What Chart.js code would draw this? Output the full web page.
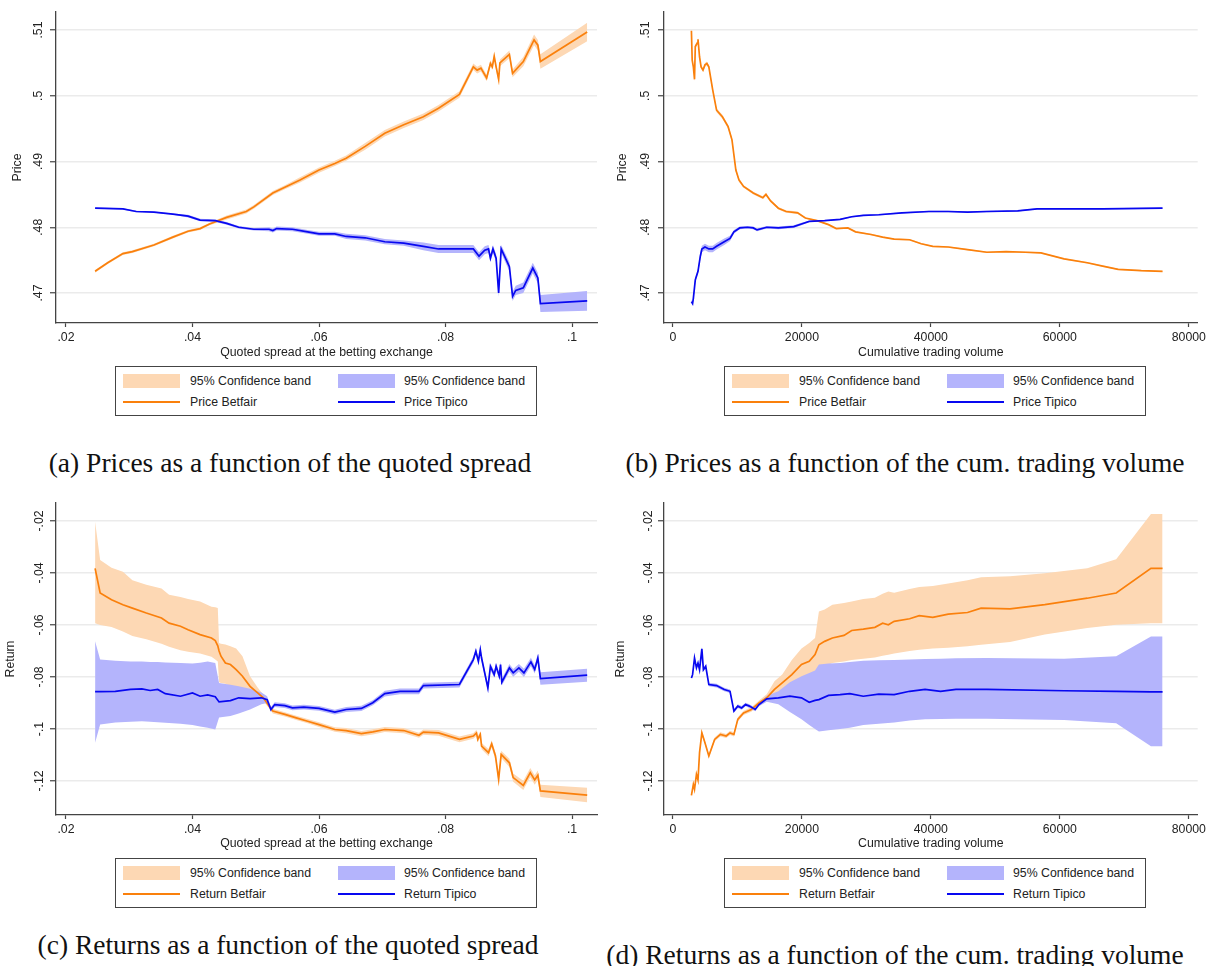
<!DOCTYPE html>
<html>
<head>
<meta charset="utf-8">
<script src="https://cdn.jsdelivr.net/npm/chart.js@4.4.0/dist/chart.umd.min.js"></script>
<style>
  body { margin: 0; background: #fff; width: 1209px; height: 966px; position: relative; overflow: hidden; }
  canvas { position: absolute; }
  .legend { position: absolute; width: 422px; height: 50px; border: 1.3px solid #444; box-sizing: border-box;
            font: 12.3px 'Liberation Sans', Arial, sans-serif; color: #222; }
  .legend span { position: absolute; }
  .sw { width: 57px; height: 14px; }
  .ln { width: 57px; height: 2px; }
  .lab { line-height: 14px; white-space: nowrap; }
  .caption { position: absolute; font: 27.5px 'Liberation Serif', 'Times New Roman', serif; line-height: 1;
             color: #111; white-space: nowrap; transform: translateX(-50%); }
</style>
</head>
<body>
<script>
// tick values
const spreadTicks = [0.02, 0.04, 0.06, 0.08, 0.1];
const volumeTicks = [0, 20000, 40000, 60000, 80000];
const priceTicks = [0.47, 0.48, 0.49, 0.5, 0.51];
const returnTicks = [-0.12, -0.1, -0.08, -0.06, -0.04, -0.02];

// (a) price vs quoted spread
const aSpreadBf = [.0246,.0266,.0290,.0305,.0339,.0369,.0393,.0412,.0427,.0454,.0485,.0497,.0527,.0546,.0570,.0600,.0625,.0643,.0673,.0704,.0734,.0765,.0789,.0822,.0844,.0850,.0856,.0865,.0871,.0874,.0877,.0880,.0884,.0886,.0901,.0906,.0923,.0940,.0946,.0950,.1024];
const aPriceBf  = [.4733,.4746,.4760,.4763,.4773,.4785,.4794,.4798,.4805,.4815,.4824,.4831,.4852,.4861,.4872,.4887,.4897,.4905,.4923,.4943,.4956,.4968,.4981,.5002,.5044,.5039,.5042,.5027,.5049,.5044,.5060,.5044,.5025,.5050,.5063,.5034,.5052,.5085,.5077,.5052,.5097];
const aLoBf     = [.4731,.4744,.4758,.4761,.4771,.4783,.4792,.4796,.4803,.4812,.4821,.4828,.4849,.4858,.4868,.4883,.4893,.4901,.4918,.4938,.4951,.4963,.4976,.4997,.5039,.5034,.5037,.5022,.5044,.5039,.5055,.5039,.5020,.5045,.5057,.5028,.5045,.5077,.5069,.5041,.5083];
const aHiBf     = [.4735,.4748,.4762,.4765,.4775,.4787,.4796,.4800,.4807,.4818,.4827,.4834,.4855,.4864,.4876,.4891,.4901,.4909,.4928,.4948,.4961,.4973,.4986,.5007,.5049,.5044,.5047,.5032,.5054,.5049,.5065,.5049,.5030,.5055,.5069,.5040,.5059,.5093,.5085,.5063,.5111];
const aSpreadTp = [.0246,.0290,.0311,.0339,.0369,.0393,.0412,.0436,.0454,.0473,.0497,.0521,.0527,.0533,.0558,.0582,.0600,.0625,.0643,.0673,.0704,.0734,.0765,.0789,.0844,.0853,.0862,.0868,.0871,.0875,.0880,.0884,.0888,.0901,.0906,.0911,.0923,.0938,.0946,.0950,.1024];
const aPriceTp  = [.4829,.4828,.4824,.4823,.4820,.4817,.4811,.4810,.4806,.4800,.4797,.4797,.4795,.4798,.4797,.4793,.4790,.4790,.4786,.4784,.4778,.4776,.4771,.4767,.4767,.4756,.4765,.4767,.4753,.4767,.4753,.4700,.4767,.4740,.4695,.4704,.4708,.4738,.4723,.4684,.4688];
const aLoTp     = [.4828,.4827,.4823,.4822,.4819,.4815,.4809,.4808,.4804,.4798,.4795,.4794,.4792,.4795,.4794,.4790,.4787,.4787,.4782,.4780,.4774,.4772,.4765,.4761,.4761,.4750,.4759,.4761,.4747,.4761,.4747,.4694,.4761,.4733,.4688,.4697,.4700,.4730,.4715,.4671,.4673];
const aHiTp     = [.4830,.4829,.4825,.4824,.4821,.4819,.4813,.4812,.4808,.4802,.4799,.4800,.4798,.4801,.4800,.4796,.4793,.4793,.4790,.4788,.4782,.4780,.4777,.4773,.4773,.4762,.4771,.4773,.4759,.4773,.4759,.4706,.4773,.4747,.4702,.4711,.4716,.4746,.4731,.4697,.4703];

// (b) price vs cumulative trading volume
const bVolBf   = [2870,2990,3170,3350,3470,3770,3890,4130,4370,4670,4970,5270,5570,6170,6770,7670,8560,9160,9760,10240,10960,12460,13950,14430,15150,16350,17550,19340,20540,22340,24130,25330,27130,28320,30720,32520,34310,36710,38500,40300,42700,45690,48680,51680,54670,57070,60660,64250,66650,69040,72640,75930];
const bPriceBf = [.5099,.5054,.5044,.5025,.5075,.5080,.5086,.5059,.5044,.5039,.5047,.5049,.5044,.5009,.4978,.4968,.4953,.4933,.4887,.4872,.4862,.4852,.4845,.4850,.4840,.4829,.4824,.4822,.4814,.4810,.4804,.4798,.4799,.4793,.4789,.4785,.4782,.4781,.4775,.4771,.4770,.4766,.4762,.4763,.4762,.4761,.4752,.4746,.4741,.4736,.4734,.4733];
const bLoBf    = [.5096,.5051,.5041,.5022,.5072,.5077,.5083,.5056,.5041,.5036,.5044,.5046,.5041,.5006,.4975,.4965,.4950,.4930,.4884,.4869,.4860,.4850,.4843,.4848,.4838,.4827,.4822,.4820,.4813,.4809,.4803,.4797,.4798,.4792,.4788,.4784,.4781,.4780,.4774,.4770,.4769,.4765,.4761,.4762,.4761,.4760,.4751,.4745,.4740,.4735,.4733,.4732];
const bHiBf    = [.5102,.5057,.5047,.5028,.5078,.5083,.5089,.5062,.5047,.5042,.5050,.5052,.5047,.5012,.4981,.4971,.4956,.4936,.4890,.4875,.4864,.4854,.4847,.4852,.4842,.4831,.4826,.4824,.4815,.4811,.4805,.4799,.4800,.4794,.4790,.4786,.4783,.4782,.4776,.4772,.4771,.4767,.4763,.4764,.4763,.4762,.4753,.4747,.4742,.4737,.4735,.4734];
const bVolTp   = [2870,3050,3170,3470,3890,4250,4490,4970,5570,6170,6770,7960,8860,9460,10360,11560,12460,13050,14550,16350,18740,19940,21140,23530,25930,27720,29520,31920,35510,39700,42700,45690,48680,53470,56470,60660,66650,75930];
const bPriceTp = [.4687,.4684,.4692,.4720,.4733,.4756,.4767,.4770,.4767,.4767,.4771,.4778,.4783,.4793,.4799,.4800,.4799,.4796,.4800,.4799,.4801,.4805,.4809,.4810,.4812,.4816,.4818,.4819,.4822,.4824,.4824,.4823,.4824,.4825,.4828,.4828,.4828,.4829];
const bLoTp    = [.4684,.4681,.4689,.4716,.4729,.4751,.4762,.4765,.4762,.4762,.4766,.4773,.4779,.4790,.4797,.4798,.4797,.4794,.4798,.4797,.4799,.4803,.4808,.4809,.4811,.4815,.4817,.4818,.4821,.4823,.4823,.4822,.4823,.4824,.4827,.4827,.4827,.4828];
const bHiTp    = [.4690,.4687,.4695,.4724,.4737,.4761,.4772,.4775,.4772,.4772,.4776,.4783,.4787,.4796,.4801,.4802,.4801,.4798,.4802,.4801,.4803,.4807,.4810,.4811,.4813,.4817,.4819,.4820,.4823,.4825,.4825,.4824,.4825,.4826,.4829,.4829,.4829,.4830];

// (c) return vs quoted spread
const cSpreadBf = [.0246,.0254,.0272,.0290,.0305,.0327,.0351,.0363,.0381,.0393,.0412,.0430,.0436,.0440,.0442,.0445,.0452,.0460,.0469,.0479,.0491,.0503,.0512,.0521,.0527,.0546,.0564,.0582,.0600,.0625,.0643,.0667,.0685,.0704,.0734,.0758,.0765,.0789,.0822,.0844,.0849,.0851,.0855,.0857,.0868,.0873,.0879,.0884,.0888,.0901,.0907,.0923,.0934,.0941,.0946,.0950,.1024];
const cRetBf    = [-.0382,-.0477,-.0503,-.0522,-.0535,-.0554,-.0573,-.0593,-.0605,-.0618,-.0637,-.0650,-.0660,-.0680,-.0700,-.0720,-.0746,-.0752,-.0772,-.0797,-.0836,-.0861,-.0880,-.0912,-.0931,-.0944,-.0957,-.0970,-.0983,-.1002,-.1006,-.1018,-.1011,-.1002,-.1006,-.1024,-.1012,-.1015,-.1040,-.1027,-.1015,-.1040,-.1021,-.1066,-.1091,-.1057,-.1104,-.1194,-.1098,-.1130,-.1187,-.1217,-.1168,-.1196,-.1178,-.1238,-.1254];
const cLoBf     = [-.0593,-.0600,-.0608,-.0625,-.0642,-.0655,-.0672,-.0684,-.0697,-.0703,-.0710,-.0722,-.0733,-.0740,-.0820,-.0823,-.0826,-.0836,-.0843,-.0850,-.0861,-.0880,-.0893,-.0920,-.0940,-.0952,-.0965,-.0978,-.0992,-.1011,-.1016,-.1028,-.1021,-.1012,-.1016,-.1034,-.1022,-.1026,-.1051,-.1038,-.1027,-.1052,-.1033,-.1078,-.1105,-.1071,-.1118,-.1208,-.1112,-.1146,-.1203,-.1235,-.1186,-.1214,-.1196,-.1262,-.1282];
const cHiBf     = [-.0203,-.0350,-.0380,-.0395,-.0428,-.0445,-.0460,-.0484,-.0492,-.0500,-.0510,-.0530,-.0532,-.0535,-.0669,-.0672,-.0675,-.0682,-.0690,-.0720,-.0797,-.0840,-.0868,-.0900,-.0922,-.0936,-.0949,-.0962,-.0974,-.0993,-.0996,-.1008,-.1001,-.0992,-.0996,-.1014,-.1002,-.1004,-.1029,-.1016,-.1003,-.1028,-.1009,-.1054,-.1077,-.1043,-.1090,-.1180,-.1084,-.1114,-.1171,-.1199,-.1150,-.1178,-.1160,-.1214,-.1226];
const cSpreadTp = [.0246,.0254,.0278,.0302,.0320,.0333,.0345,.0357,.0381,.0400,.0412,.0424,.0436,.0442,.0460,.0473,.0491,.0509,.0518,.0524,.0530,.0546,.0558,.0576,.0600,.0625,.0643,.0667,.0685,.0704,.0728,.0758,.0765,.0822,.0844,.0848,.0852,.0855,.0857,.0867,.0871,.0877,.0880,.0885,.0887,.0889,.0901,.0907,.0916,.0924,.0935,.0941,.0946,.0950,.1024];
const cRetTp    = [-.0856,-.0856,-.0855,-.0848,-.0846,-.0852,-.0848,-.0864,-.0874,-.0861,-.0874,-.0869,-.0876,-.0896,-.0891,-.0880,-.0883,-.0880,-.0887,-.0925,-.0906,-.0910,-.0919,-.0916,-.0921,-.0935,-.0925,-.0921,-.0899,-.0864,-.0855,-.0855,-.0833,-.0829,-.0733,-.0701,-.0740,-.0695,-.0727,-.0842,-.0759,-.0791,-.0759,-.0797,-.0752,-.0820,-.0765,-.0784,-.0765,-.0784,-.0742,-.0771,-.0727,-.0806,-.0793];
const cLoTp     = [-.1053,-.0983,-.0975,-.0972,-.0970,-.0972,-.0974,-.0976,-.0980,-.0985,-.0990,-.0995,-.1002,-.0956,-.0950,-.0940,-.0925,-.0905,-.0900,-.0935,-.0915,-.0919,-.0928,-.0925,-.0930,-.0944,-.0935,-.0931,-.0909,-.0875,-.0866,-.0866,-.0844,-.0840,-.0745,-.0713,-.0752,-.0707,-.0739,-.0855,-.0772,-.0804,-.0772,-.0810,-.0765,-.0833,-.0780,-.0799,-.0780,-.0800,-.0758,-.0787,-.0743,-.0830,-.0818];
const cHiTp     = [-.0663,-.0733,-.0738,-.0740,-.0740,-.0742,-.0742,-.0744,-.0746,-.0748,-.0745,-.0740,-.0746,-.0823,-.0830,-.0836,-.0845,-.0860,-.0874,-.0915,-.0897,-.0901,-.0910,-.0907,-.0912,-.0926,-.0915,-.0911,-.0889,-.0853,-.0844,-.0844,-.0822,-.0818,-.0721,-.0689,-.0728,-.0683,-.0715,-.0829,-.0746,-.0778,-.0746,-.0784,-.0739,-.0807,-.0750,-.0769,-.0750,-.0768,-.0726,-.0755,-.0711,-.0782,-.0768];

// (d) return vs cumulative trading volume
const dVolBf = [2870,3170,3350,3650,3890,4130,4490,4970,5570,6470,7370,8260,8860,9460,10060,10960,12160,13350,14550,15750,16950,18440,19940,21140,22040,22640,23530,24730,26530,27720,29520,31320,32520,33410,34310,36710,38200,40300,42700,45690,47790,52280,57670,64250,68740,74130,75930];
const dRetBf = [-.1255,-.1213,-.1232,-.1174,-.1196,-.1091,-.1015,-.1053,-.1104,-.1040,-.1021,-.1027,-.1015,-.1021,-.0963,-.0938,-.0925,-.0900,-.0880,-.0848,-.0823,-.0791,-.0752,-.0740,-.0714,-.0676,-.0663,-.0650,-.0640,-.0621,-.0616,-.0609,-.0593,-.0599,-.0586,-.0576,-.0564,-.0571,-.0558,-.0552,-.0535,-.0538,-.0522,-.0497,-.0477,-.0382,-.0382];
const dLoBf  = [-.1262,-.1220,-.1239,-.1181,-.1203,-.1098,-.1022,-.1060,-.1111,-.1047,-.1029,-.1035,-.1023,-.1029,-.0971,-.0946,-.0934,-.0910,-.0892,-.0874,-.0860,-.0840,-.0815,-.0797,-.0780,-.0772,-.0760,-.0746,-.0740,-.0735,-.0730,-.0725,-.0718,-.0714,-.0710,-.0700,-.0695,-.0690,-.0688,-.0682,-.0676,-.0665,-.0637,-.0612,-.0599,-.0593,-.0593];
const dHiBf  = [-.1248,-.1206,-.1225,-.1167,-.1189,-.1084,-.1008,-.1046,-.1097,-.1033,-.1013,-.1019,-.1007,-.1013,-.0955,-.0930,-.0916,-.0890,-.0866,-.0816,-.0790,-.0735,-.0690,-.0669,-.0650,-.0548,-.0540,-.0522,-.0515,-.0510,-.0500,-.0495,-.0480,-.0471,-.0476,-.0462,-.0454,-.0450,-.0440,-.0428,-.0416,-.0413,-.0401,-.0382,-.0347,-.0173,-.0173];
const dVolTp = [2870,3050,3350,3650,3890,4130,4490,4730,5090,5570,6770,7960,8860,9460,10060,10660,11260,11860,12760,13350,14550,16350,18140,19940,21140,22040,22640,24130,25930,27430,29520,31920,34310,36710,39100,41500,43890,48680,60660,68740,74130,75930];
const dRetTp = [-.0804,-.0791,-.0727,-.0765,-.0746,-.0772,-.0692,-.0772,-.0759,-.0829,-.0833,-.0848,-.0855,-.0931,-.0912,-.0919,-.0906,-.0912,-.0925,-.0906,-.0884,-.0880,-.0874,-.0880,-.0897,-.0890,-.0887,-.0871,-.0868,-.0864,-.0874,-.0866,-.0868,-.0855,-.0848,-.0855,-.0848,-.0848,-.0853,-.0855,-.0857,-.0857];
const dLoTp  = [-.0810,-.0797,-.0734,-.0772,-.0753,-.0779,-.0699,-.0779,-.0766,-.0836,-.0840,-.0855,-.0862,-.0938,-.0919,-.0926,-.0913,-.0919,-.0932,-.0913,-.0895,-.0905,-.0935,-.0963,-.0985,-.1000,-.1010,-.1005,-.1000,-.0995,-.0985,-.0980,-.0975,-.0967,-.0963,-.0962,-.0961,-.0961,-.0965,-.0978,-.1066,-.1066];
const dHiTp  = [-.0798,-.0785,-.0720,-.0758,-.0739,-.0765,-.0685,-.0765,-.0752,-.0822,-.0826,-.0841,-.0848,-.0924,-.0905,-.0912,-.0899,-.0905,-.0918,-.0899,-.0873,-.0855,-.0820,-.0797,-.0785,-.0775,-.0752,-.0748,-.0746,-.0742,-.0738,-.0736,-.0735,-.0733,-.0731,-.0730,-.0728,-.0727,-.0730,-.0720,-.0644,-.0644];

const ORANGE = 'rgb(250,128,12)';
const ORANGE_BAND = 'rgb(253,216,180)';
const BLUE = 'rgb(8,8,240)';
const BLUE_BAND = 'rgb(180,180,252)';
const AXIS = '#444';
const GRID = '#ebebeb';
const TXT = '#222';
const SANS = "'Liberation Sans', Arial, sans-serif";

const pts = (xs, ys) => xs.map((x, i) => ({ x: x, y: ys[i] }));
const fmtDec = v => String(+v.toFixed(4)).replace(/^(-?)0\./, '$1.');
const fmtInt = v => String(v);

function makePanel(p) {
  const cv = document.createElement('canvas');
  cv.width = p.box[2];
  cv.height = p.box[3];
  cv.style.left = p.box[0] + 'px';
  cv.style.top = p.box[1] + 'px';
  document.body.appendChild(cv);
  const [l, t, r, b] = p.area;
  const font = { family: SANS, size: 12.3 };
  const band = (xs, ys, color, fill, order) => ({
    data: pts(xs, ys), borderColor: 'rgba(0,0,0,0)', borderWidth: 0,
    backgroundColor: color, fill: fill, order: order
  });

  new Chart(cv, {
    type: 'line',
    data: {
      datasets: [
        { data: pts(p.tx, p.ty), borderColor: BLUE, borderWidth: 1.7, fill: false, order: 0 },
        { data: pts(p.bx, p.by), borderColor: ORANGE, borderWidth: 1.7, fill: false, order: 1 },
        band(p.tx, p.thi, BLUE_BAND, '+1', 2),
        band(p.tx, p.tlo, BLUE_BAND, false, 2),
        band(p.bx, p.bhi, ORANGE_BAND, '+1', 3),
        band(p.bx, p.blo, ORANGE_BAND, false, 3)
      ]
    },
    options: {
      responsive: false,
      animation: false,
      events: [],
      elements: { point: { radius: 0 }, line: { tension: 0 } },
      layout: { padding: { left: 0, top: t, right: p.box[2] - r, bottom: 0 } },
      plugins: { legend: { display: false }, tooltip: { enabled: false } },
      scales: {
        x: {
          type: 'linear', min: p.xr[0], max: p.xr[1],
          afterBuildTicks: s => { s.ticks = p.xTicks.map(v => ({ value: v })); },
          afterFit: s => { s.height = p.box[3] - b; },
          grid: { drawOnChartArea: false, drawTicks: true, tickLength: 4, tickColor: AXIS, tickWidth: 1.2 },
          border: { display: true, color: AXIS, width: 1.3 },
          ticks: { autoSkip: false, maxRotation: 0, minRotation: 0, padding: 3, color: TXT, font: font, callback: p.xFmt },
          title: { display: true, text: p.xTitle, color: TXT, font: font, padding: { top: 0, bottom: 1.6 } }
        },
        y: {
          type: 'linear', min: p.yr[0], max: p.yr[1],
          afterBuildTicks: s => { s.ticks = p.yTicks.map(v => ({ value: v })); },
          afterFit: s => { s.width = l; },
          grid: { color: GRID, lineWidth: 1.5, tickLength: 6, tickColor: AXIS, tickWidth: 1.2 },
          border: { display: true, color: AXIS, width: 1.3 },
          ticks: { autoSkip: false, minRotation: 90, maxRotation: 90, crossAlign: 'center', padding: p.yTickPad,
                   color: TXT, font: font, callback: fmtDec },
          title: { display: true, text: p.yTitle, color: TXT, font: font, padding: { top: p.yTitlePad, bottom: 0 } }
        }
      }
    }
  });
}

function makeLegend(left, top, bfName, tpName) {
  const d = document.createElement('div');
  d.className = 'legend';
  d.style.left = left + 'px';
  d.style.top = top + 'px';
  d.innerHTML =
    '<span class="sw" style="left:7px;top:7px;background:' + ORANGE_BAND + '"></span>' +
    '<span class="lab" style="left:74px;top:7px">95% Confidence band</span>' +
    '<span class="sw" style="left:222px;top:7px;background:' + BLUE_BAND + '"></span>' +
    '<span class="lab" style="left:288px;top:7px">95% Confidence band</span>' +
    '<span class="ln" style="left:7px;top:34px;background:' + ORANGE + '"></span>' +
    '<span class="lab" style="left:74px;top:28px">' + bfName + '</span>' +
    '<span class="ln" style="left:222px;top:34px;background:' + BLUE + '"></span>' +
    '<span class="lab" style="left:288px;top:28px">' + tpName + '</span>';
  document.body.appendChild(d);
}

function makeCaption(cx, top, text) {
  const d = document.createElement('div');
  d.className = 'caption';
  d.style.left = cx + 'px';
  d.style.top = top + 'px';
  d.textContent = text;
  document.body.appendChild(d);
}

const spreadRange = [0.01842, 0.10395];
const volumeRange = [-1382, 81382];
const priceRange = [0.46544, 0.51274];
const returnRange = [-0.13308, -0.01308];

makePanel({
  box: [0, 0, 600, 362], area: [56, 12, 597, 323], xr: spreadRange, yr: priceRange,
  xTicks: spreadTicks, yTicks: priceTicks, xFmt: fmtDec,
  xTitle: 'Quoted spread at the betting exchange', yTitle: 'Price', yTitlePad: 10.6, yTickPad: 2.5,
  bx: aSpreadBf, by: aPriceBf, blo: aLoBf, bhi: aHiBf, tx: aSpreadTp, ty: aPriceTp, tlo: aLoTp, thi: aHiTp
});
makePanel({
  box: [600, 0, 609, 362], area: [64, 12, 603, 323], xr: volumeRange, yr: priceRange,
  xTicks: volumeTicks, yTicks: priceTicks, xFmt: fmtInt,
  xTitle: 'Cumulative trading volume', yTitle: 'Price', yTitlePad: 15.6, yTickPad: 3.5,
  bx: bVolBf, by: bPriceBf, blo: bLoBf, bhi: bHiBf, tx: bVolTp, ty: bPriceTp, tlo: bLoTp, thi: bHiTp
});
makePanel({
  box: [0, 490, 600, 363], area: [56, 13, 597, 325], xr: spreadRange, yr: returnRange,
  xTicks: spreadTicks, yTicks: returnTicks, xFmt: fmtDec,
  xTitle: 'Quoted spread at the betting exchange', yTitle: 'Return', yTitlePad: 3.6, yTickPad: -0.5,
  bx: cSpreadBf, by: cRetBf, blo: cLoBf, bhi: cHiBf, tx: cSpreadTp, ty: cRetTp, tlo: cLoTp, thi: cHiTp
});
makePanel({
  box: [600, 490, 609, 363], area: [64, 13, 603, 325], xr: volumeRange, yr: returnRange,
  xTicks: volumeTicks, yTicks: returnTicks, xFmt: fmtInt,
  xTitle: 'Cumulative trading volume', yTitle: 'Return', yTitlePad: 13.6, yTickPad: -1.5,
  bx: dVolBf, by: dRetBf, blo: dLoBf, bhi: dHiBf, tx: dVolTp, ty: dRetTp, tlo: dLoTp, thi: dHiTp
});

makeLegend(115, 366, 'Price Betfair', 'Price Tipico');
makeLegend(724, 366, 'Price Betfair', 'Price Tipico');
makeLegend(115, 858, 'Return Betfair', 'Return Tipico');
makeLegend(724, 858, 'Return Betfair', 'Return Tipico');

makeCaption(290, 449, '(a) Prices as a function of the quoted spread');
makeCaption(905, 449, '(b) Prices as a function of the cum. trading volume');
makeCaption(288, 931, '(c) Returns as a function of the quoted spread');
makeCaption(895, 941, '(d) Returns as a function of the cum. trading volume');
</script>
</body>
</html>
